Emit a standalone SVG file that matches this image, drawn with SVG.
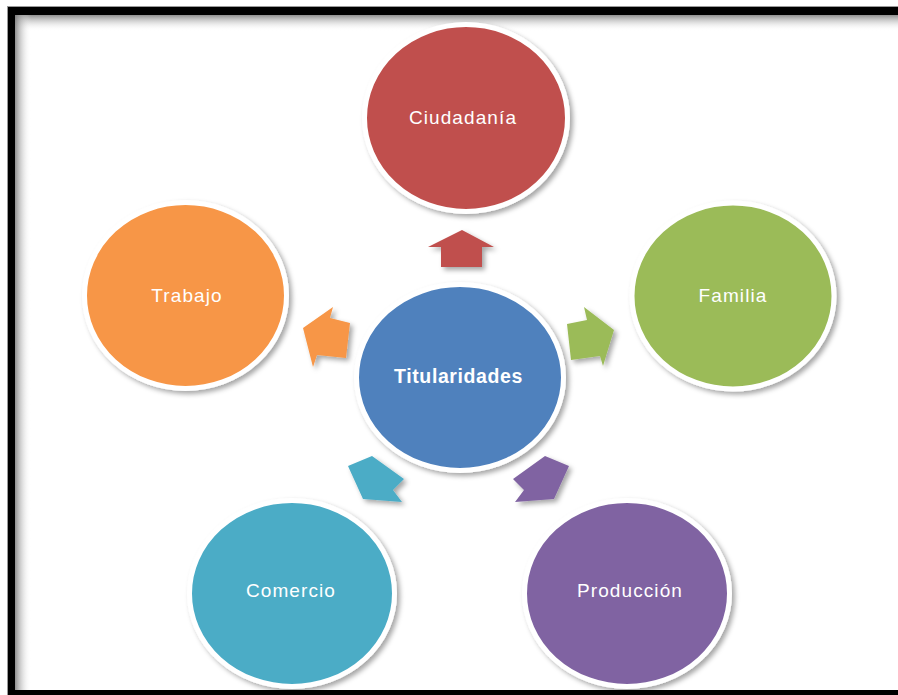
<svg xmlns="http://www.w3.org/2000/svg" width="898" height="695" viewBox="0 0 898 695">
  <defs>
    <filter id="shadow" x="-20%" y="-20%" width="140%" height="140%">
      <feDropShadow dx="3" dy="3" stdDeviation="2.5" flood-color="#000" flood-opacity="0.35"/>
    </filter>
    <linearGradient id="gTop" x1="0" y1="0" x2="0" y2="1">
      <stop offset="0" stop-color="#7a7a7a" stop-opacity="0.85"/>
      <stop offset="1" stop-color="#ffffff" stop-opacity="0"/>
    </linearGradient>
    <linearGradient id="gLeft" x1="0" y1="0" x2="1" y2="0">
      <stop offset="0" stop-color="#7a7a7a" stop-opacity="0.85"/>
      <stop offset="1" stop-color="#ffffff" stop-opacity="0"/>
    </linearGradient>
    <style>
      .node { stroke: #ffffff; stroke-width: 5; filter: url(#shadow); }
      .arrow { filter: url(#shadow); }
      .lbl { font-family: "Liberation Sans", Arial, sans-serif; font-size: 19px; fill: #ffffff; text-anchor: middle; letter-spacing: 1.1px; }
      .lblb { font-family: "Liberation Sans", Arial, sans-serif; font-size: 19.5px; font-weight: bold; fill: #ffffff; text-anchor: middle; letter-spacing: 0.6px; }
    </style>
  </defs>

  <rect x="0" y="0" width="898" height="695" fill="#ffffff"/>
  <!-- frame -->
  <g id="frame">
    <rect x="7" y="6" width="900" height="700" fill="#9a9a9a"/>
    <rect x="8" y="7" width="900" height="700" fill="#000000"/>
    <rect x="15" y="15" width="890" height="675" fill="#ffffff"/>
    <rect x="15" y="15" width="890" height="16" fill="url(#gTop)"/>
    <rect x="15" y="15" width="16" height="675" fill="url(#gLeft)"/>
  </g>

  <!-- connectors -->
  <g id="connectors">
    <polygon class="arrow" fill="#C0504D" points="462,230 494,247 482,247 482,267 441,267 441,247 428,247"/>
    <polygon class="arrow" fill="#F79646" points="303,328 333,307 330,318 350,323 346,358 317,355 313,367"/>
    <polygon class="arrow" fill="#9BBB59" points="614,330 584,307 587,320 567,324 571,360 600,356 603,366"/>
    <polygon class="arrow" fill="#4BACC6" points="363,499 348,466 372,456 404,479 393,490 402,502"/>
    <polygon class="arrow" fill="#8064A2" points="554,499 569,466 545,456 513,479 524,490 515,502"/>
  </g>

  <g id="node-ciudadania">
    <ellipse class="node" cx="466" cy="118" rx="101.5" ry="93.5" fill="#C0504D"/>
    <text class="lbl" x="463" y="124">Ciudadanía</text>
  </g>
  <g id="node-trabajo">
    <ellipse class="node" cx="185.5" cy="295.5" rx="101" ry="93" fill="#F79646"/>
    <text class="lbl" x="187" y="302">Trabajo</text>
  </g>
  <g id="node-familia">
    <ellipse class="node" cx="733" cy="296" rx="101" ry="93" fill="#9BBB59"/>
    <text class="lbl" x="733" y="302">Familia</text>
  </g>
  <g id="node-titularidades">
    <ellipse class="node" cx="460" cy="377.5" rx="103.5" ry="93" fill="#4F81BD"/>
    <text class="lblb" x="458.5" y="383">Titularidades</text>
  </g>
  <g id="node-comercio">
    <ellipse class="node" cx="292" cy="593.5" rx="102.5" ry="93" fill="#4BACC6"/>
    <text class="lbl" x="291" y="597">Comercio</text>
  </g>
  <g id="node-produccion">
    <ellipse class="node" cx="627" cy="593.5" rx="102.5" ry="93" fill="#8064A2"/>
    <text class="lbl" x="630" y="597">Producción</text>
  </g>

  <!-- bottom frame band over nodes -->
  <rect x="8" y="690" width="900" height="10" fill="#000000"/>
</svg>
